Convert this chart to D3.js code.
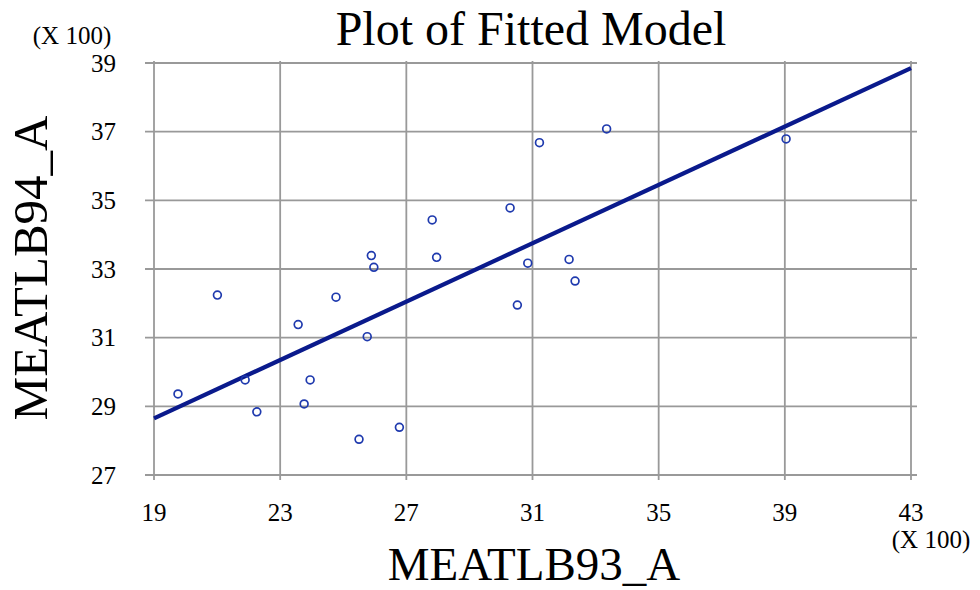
<html>
<head>
<script src="https://d3js.org/d3.v7.min.js"></script>
<style>
body { margin:0; background:#fff; }
#chart { display:inline-block; }
#chart text { font-family: "Liberation Serif", "DejaVu Serif", "Noto Serif", Tinos, FreeSerif, "Times New Roman", serif; }
</style>
</head>
<body>
<div id="chart"></div>
<script>
	//values are in hundreds, as the (X 100) notes say
	var meat93 = [19.76, 21.01, 21.89, 22.26, 23.57, 23.76, 23.95, 24.77, 25.50, 25.76, 25.89, 25.97,
		26.78, 27.82, 27.96, 30.29, 30.52, 30.85, 31.22, 32.16, 32.35, 33.35, 39.04];
	var meat94 = [29.36, 32.24, 29.77, 28.84, 31.38, 29.07, 29.77, 32.18, 28.04, 31.03, 33.39, 33.05,
		28.39, 34.43, 33.34, 34.78, 31.95, 33.17, 36.68, 33.28, 32.65, 37.08, 36.79];
	//fitted line end points
	var fit_x = [19, 43];
	var fit_y = [28.65, 38.85];
	var x_ticks = [19, 23, 27, 31, 35, 39, 43];
	var y_ticks = [27, 29, 31, 33, 35, 37, 39];

	var width = 980;
	var height = 590;

	var x = d3.scaleLinear().domain([19, 43]).range([154, 911]);
	var y = d3.scaleLinear().domain([27, 39]).range([475, 63]);

	var svg = d3.select("#chart").append("svg")
		.attr("width", width)
		.attr("height", height);

	//grid, lines run a little past the plot like tick marks
	svg.append("g")
		.selectAll("line")
		.data(x_ticks)
		.enter().append("line")
		.attr("x1", function(d){return x(d);})
		.attr("x2", function(d){return x(d);})
		.attr("y1", y(39) - 2)
		.attr("y2", y(27) + 5)
		.attr("stroke", "#999")
		.attr("stroke-width", 1.8);

	svg.append("g")
		.selectAll("line")
		.data(y_ticks)
		.enter().append("line")
		.attr("x1", x(19) - 9)
		.attr("x2", x(43) + 6)
		.attr("y1", function(d){return y(d);})
		.attr("y2", function(d){return y(d);})
		.attr("stroke", "#999")
		.attr("stroke-width", 1.8);

	//tick labels
	svg.append("g")
		.selectAll("text")
		.data(x_ticks)
		.enter().append("text")
		.attr("x", function(d){return x(d);})
		.attr("y", 521)
		.attr("text-anchor", "middle")
		.attr("font-size", 25)
		.text(function(d){return d;});

	svg.append("g")
		.selectAll("text")
		.data(y_ticks)
		.enter().append("text")
		.attr("x", 116)
		.attr("y", function(d){return y(d) + 8.5;})
		.attr("text-anchor", "end")
		.attr("font-size", 25)
		.text(function(d){return d;});

	svg.append("text")
		.attr("x", 72)
		.attr("y", 44)
		.attr("text-anchor", "middle")
		.attr("font-size", 25)
		.text("(X 100)");

	svg.append("text")
		.attr("x", 931)
		.attr("y", 548)
		.attr("text-anchor", "middle")
		.attr("font-size", 25)
		.text("(X 100)");

	//fitted model
	var line = d3.line()
		.x(function(d){return x(d[0]);})
		.y(function(d){return y(d[1]);});

	svg.append("path")
		.datum(d3.zip(fit_x, fit_y))
		.attr("d", line)
		.attr("fill", "none")
		.attr("stroke", "#0a1a8c")
		.attr("stroke-width", 4.2);

	//observations
	svg.append("g")
		.selectAll("circle")
		.data(d3.zip(meat93, meat94))
		.enter().append("circle")
		.attr("cx", function(d){return x(d[0]);})
		.attr("cy", function(d){return y(d[1]);})
		.attr("r", 3.9)
		.attr("fill", "none")
		.attr("stroke", "#1f3aae")
		.attr("stroke-width", 1.7);

	//titles
	svg.append("text")
		.attr("x", 531)
		.attr("y", 45)
		.attr("text-anchor", "middle")
		.attr("font-size", 48)
		.text("Plot of Fitted Model");

	svg.append("text")
		.attr("x", 534)
		.attr("y", 580)
		.attr("text-anchor", "middle")
		.attr("font-size", 47)
		.text("MEATLB93_A");

	svg.append("text")
		.attr("transform", "translate(47,268) rotate(-90)")
		.attr("text-anchor", "middle")
		.attr("font-size", 49)
		.text("MEATLB94_A");
</script>
</body>
</html>
